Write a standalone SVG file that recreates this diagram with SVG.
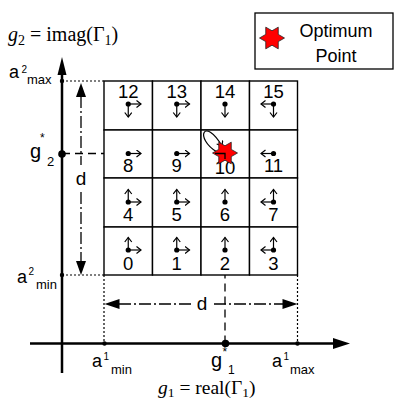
<svg xmlns="http://www.w3.org/2000/svg" width="395" height="400" viewBox="0 0 395 400">
<style>
.cell{fill:#fff;stroke:#000;stroke-width:1.4}
.num{font-family:"Liberation Sans",Arial,sans-serif;font-size:18.5px;text-anchor:middle;fill:#000}
.lbl{font-family:"Liberation Sans",Arial,sans-serif;fill:#000}
.ser{font-family:"Liberation Serif","Times New Roman",serif;fill:#000}
.ca{stroke:#000;stroke-width:1.2;fill:none;marker-end:url(#open)}
.axis{stroke:#000;stroke-width:2.5;fill:none}
.dot{stroke:#000;stroke-width:1.2;fill:none;stroke-dasharray:2,2}
.dash{stroke:#000;stroke-width:1.3;fill:none;stroke-dasharray:8,5}
.dd{stroke:#000;stroke-width:1.3;fill:none;stroke-dasharray:12,3,2,3}
.star{fill:#f00;stroke:#222;stroke-width:0.8}
</style>
<defs>
<marker id="open" markerUnits="userSpaceOnUse" markerWidth="8" markerHeight="9" refX="5" refY="4" orient="auto"><path d="M0.5,0.5 L5,4 L0.5,7.5" fill="none" stroke="#000" stroke-width="1.2"/></marker>
<polygon id="hex" points="12.5,0 6.25,3.61 6.25,10.83 0,7.22 -6.25,10.83 -6.25,3.61 -12.5,0 -6.25,-3.61 -6.25,-10.83 0,-7.22 6.25,-10.83 6.25,-3.61"/>
</defs>

<g id="connectors">
  <line class="axis" x1="62" y1="373" x2="62" y2="72"/>
  <polygon points="62,57 57.5,75 66.5,75" fill="#000"/>
  <line class="axis" x1="30" y1="343.5" x2="336" y2="343.5"/>
  <polygon points="350,343.5 333,338 333,349" fill="#000"/>
  <line class="dot" x1="62" y1="81" x2="104" y2="81"/>
  <line class="dot" x1="62" y1="275" x2="104" y2="275"/>
  <line class="dot" x1="104" y1="275" x2="104" y2="343"/>
  <line class="dot" x1="297.5" y1="275" x2="297.5" y2="343"/>
  <line class="dash" x1="62" y1="153.5" x2="225" y2="153.5"/>
  <line class="dash" x1="225" y1="153.5" x2="225" y2="343"/>
  <line class="dd" x1="81" y1="96" x2="81" y2="165"/>
  <line class="dd" x1="81" y1="192" x2="81" y2="262"/>
  <polygon points="81,83 76,97 86,97" fill="#000"/>
  <polygon points="81,275 76,261 86,261" fill="#000"/>
  <line class="dd" x1="119" y1="304" x2="191" y2="304"/>
  <line class="dd" x1="214" y1="304" x2="283" y2="304"/>
  <polygon points="104.5,304 119.5,299 119.5,309" fill="#000"/>
  <polygon points="297.5,304 282.5,299 282.5,309" fill="#000"/>
  <circle cx="62" cy="81" r="2.2" fill="#000"/>
  <circle cx="62" cy="275" r="2.2" fill="#000"/>
  <circle cx="62" cy="154" r="3.8" fill="#000"/>
  <circle cx="104.5" cy="343.5" r="2.2" fill="#000"/>
  <circle cx="297.5" cy="343.5" r="2.2" fill="#000"/>
  <circle cx="225.5" cy="343.5" r="3.8" fill="#000"/>
</g>

<g id="axis-labels">
  <text class="ser" x="8" y="41" font-size="20"><tspan font-style="italic">g</tspan><tspan font-size="14" dy="4">2</tspan><tspan dy="-4"> = imag(Γ</tspan><tspan font-size="14" dy="4">1</tspan><tspan dy="-4">)</tspan></text>
  <text class="ser" x="158" y="394" font-size="19.5"><tspan font-style="italic">g</tspan><tspan font-size="13.5" dy="2.5">1</tspan><tspan dy="-2.5"> = real(Γ</tspan><tspan font-size="13.5" dy="2.5">1</tspan><tspan dy="-2.5">)</tspan></text>
  <text class="lbl" x="9" y="78" font-size="18">a</text>
  <text class="lbl" x="21.5" y="73" font-size="10">2</text>
  <text class="lbl" x="27" y="83.5" font-size="13">max</text>
  <text class="lbl" x="30" y="158" font-size="20">g</text>
  <text class="lbl" x="40" y="142" font-size="12">*</text>
  <text class="lbl" x="47" y="166" font-size="13">2</text>
  <text class="lbl" x="17" y="283" font-size="18">a</text>
  <text class="lbl" x="28.5" y="275" font-size="10">2</text>
  <text class="lbl" x="36" y="288.5" font-size="13">min</text>
  <text class="lbl" x="92" y="367" font-size="18">a</text>
  <text class="lbl" x="103.5" y="360" font-size="10">1</text>
  <text class="lbl" x="111" y="373.5" font-size="13">min</text>
  <text class="lbl" x="211" y="367" font-size="20">g</text>
  <text class="lbl" x="222.5" y="356" font-size="12">*</text>
  <text class="lbl" x="228" y="374" font-size="12">1</text>
  <text class="lbl" x="272" y="367" font-size="18">a</text>
  <text class="lbl" x="283.5" y="360" font-size="10">1</text>
  <text class="lbl" x="290" y="373.5" font-size="13">max</text>
  <text class="lbl" x="81" y="185" font-size="19" text-anchor="middle">d</text>
  <text class="lbl" x="202" y="310" font-size="19" text-anchor="middle">d</text>
</g>

<g id="cell-12"><rect class="cell" x="104" y="81" width="48.5" height="49"/><text class="num" x="128.25" y="98">12</text><circle cx="128.25" cy="104" r="2.6"/><line class="ca" x1="128.25" y1="104" x2="141" y2="104"/><line class="ca" x1="128.25" y1="104" x2="128.25" y2="117"/></g>
<g id="cell-13"><rect class="cell" x="152.5" y="81" width="48.5" height="49"/><text class="num" x="176.75" y="98">13</text><circle cx="176.75" cy="104" r="2.6"/><line class="ca" x1="176.75" y1="104" x2="189.5" y2="104"/><line class="ca" x1="176.75" y1="104" x2="176.75" y2="117"/></g>
<g id="cell-14"><rect class="cell" x="201" y="81" width="48.5" height="49"/><text class="num" x="225" y="98">14</text><circle cx="225" cy="104" r="2.6"/><line class="ca" x1="225" y1="104" x2="225" y2="117"/></g>
<g id="cell-15"><rect class="cell" x="249.5" y="81" width="48" height="49"/><text class="num" x="273.5" y="98">15</text><circle cx="273.5" cy="104" r="2.6"/><line class="ca" x1="273.5" y1="104" x2="261" y2="104"/><line class="ca" x1="273.5" y1="104" x2="273.5" y2="117"/></g>
<g id="cell-8"><rect class="cell" x="104" y="130" width="48.5" height="48"/><text class="num" x="128.25" y="172">8</text><circle cx="128.25" cy="153.5" r="2.6"/><line class="ca" x1="128.25" y1="153.5" x2="141" y2="153.5"/></g>
<g id="cell-9"><rect class="cell" x="152.5" y="130" width="48.5" height="48"/><text class="num" x="176.75" y="172">9</text><circle cx="176.75" cy="153.5" r="2.6"/><line class="ca" x1="176.75" y1="153.5" x2="189.5" y2="153.5"/></g>
<g id="cell-10"><rect class="cell" x="201" y="130" width="48.5" height="48"/><text class="num" x="225" y="174">10</text><path class="ca" d="M217,152 C194,138 204,116 222,146"/></g>
<g id="cell-11"><rect class="cell" x="249.5" y="130" width="48" height="48"/><text class="num" x="273.5" y="172">11</text><circle cx="273.5" cy="153.5" r="2.6"/><line class="ca" x1="273.5" y1="153.5" x2="261" y2="153.5"/></g>
<g id="cell-4"><rect class="cell" x="104" y="178" width="48.5" height="49"/><text class="num" x="128.25" y="221">4</text><circle cx="128.25" cy="202" r="2.6"/><line class="ca" x1="128.25" y1="202" x2="128.25" y2="189.5"/><line class="ca" x1="128.25" y1="202" x2="141" y2="202"/></g>
<g id="cell-5"><rect class="cell" x="152.5" y="178" width="48.5" height="49"/><text class="num" x="176.75" y="221">5</text><circle cx="176.75" cy="202" r="2.6"/><line class="ca" x1="176.75" y1="202" x2="176.75" y2="189.5"/><line class="ca" x1="176.75" y1="202" x2="189.5" y2="202"/></g>
<g id="cell-6"><rect class="cell" x="201" y="178" width="48.5" height="49"/><text class="num" x="225" y="221">6</text><circle cx="225" cy="202" r="2.6"/><line class="ca" x1="225" y1="202" x2="225" y2="189.5"/></g>
<g id="cell-7"><rect class="cell" x="249.5" y="178" width="48" height="49"/><text class="num" x="273.5" y="221">7</text><circle cx="273.5" cy="202" r="2.6"/><line class="ca" x1="273.5" y1="202" x2="273.5" y2="189.5"/><line class="ca" x1="273.5" y1="202" x2="261" y2="202"/></g>
<g id="cell-0"><rect class="cell" x="104" y="227" width="48.5" height="48"/><text class="num" x="128.25" y="270">0</text><circle cx="128.25" cy="250" r="2.6"/><line class="ca" x1="128.25" y1="250" x2="128.25" y2="237.5"/><line class="ca" x1="128.25" y1="250" x2="141" y2="250"/></g>
<g id="cell-1"><rect class="cell" x="152.5" y="227" width="48.5" height="48"/><text class="num" x="176.75" y="270">1</text><circle cx="176.75" cy="250" r="2.6"/><line class="ca" x1="176.75" y1="250" x2="176.75" y2="237.5"/><line class="ca" x1="176.75" y1="250" x2="189.5" y2="250"/></g>
<g id="cell-2"><rect class="cell" x="201" y="227" width="48.5" height="48"/><text class="num" x="225" y="270">2</text><circle cx="225" cy="250" r="2.6"/><line class="ca" x1="225" y1="250" x2="225" y2="237.5"/></g>
<g id="cell-3"><rect class="cell" x="249.5" y="227" width="48" height="48"/><text class="num" x="273.5" y="270">3</text><circle cx="273.5" cy="250" r="2.6"/><line class="ca" x1="273.5" y1="250" x2="273.5" y2="237.5"/><line class="ca" x1="273.5" y1="250" x2="261" y2="250"/></g>

<g id="optimum">
  <use href="#hex" class="star" transform="translate(225,153)"/>
  <path d="M215,153.5 H225 V159" fill="none" stroke="#000" stroke-width="1.3"/>
</g>

<g id="legend">
  <rect x="255" y="13" width="138" height="56" fill="#fff" stroke="#000" stroke-width="1.3"/>
  <use href="#hex" class="star" transform="translate(272,38)"/>
  <text class="lbl" x="336" y="37" font-size="18" text-anchor="middle">Optimum</text>
  <text class="lbl" x="336" y="62" font-size="18" text-anchor="middle">Point</text>
</g>
</svg>
